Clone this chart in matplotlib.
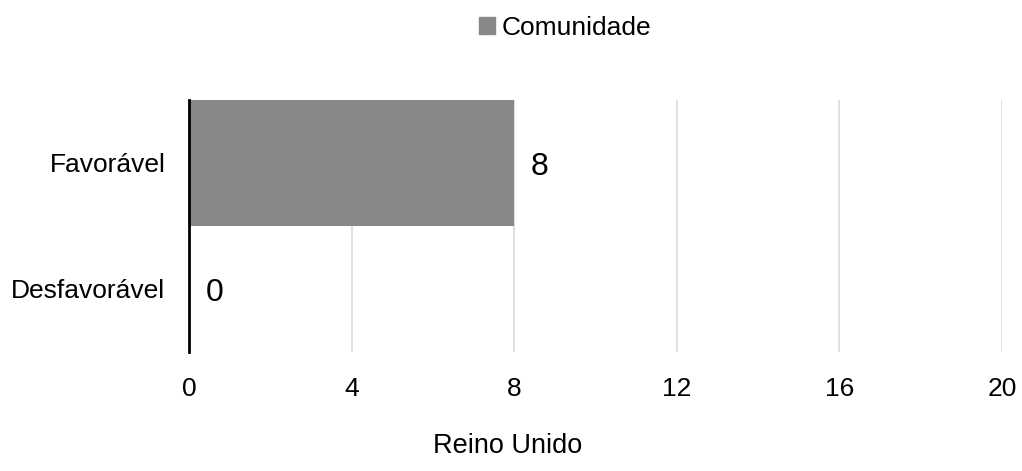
import matplotlib.pyplot as plt
from matplotlib.patches import Patch

plt.rcParams['font.family'] = ['Liberation Sans', 'DejaVu Sans']

# dados
categorias = ["Desfavorável", "Favorável"]
valores = [0, 8]
serie = "Comunidade"
ticks_x = [0, 4, 8, 12, 16, 20]
titulo_x = "Reino Unido"

cor_barra = "#878787"

fig = plt.figure(figsize=(10.22, 4.71), dpi=100)
ax = fig.add_axes([189 / 1022, 1 - 352 / 471, (1002 - 189) / 1022, 252 / 471])

barras = ax.barh(categorias, valores, height=1.0, color=cor_barra, zorder=3)

ax.set_xlim(0, 20)
ax.set_ylim(-0.5, 1.5)
ax.set_xticks(ticks_x)
ax.grid(axis="x", color="#d9d9d9", linewidth=1.2, zorder=0)
ax.tick_params(axis="both", length=0, labelsize=19)
ax.tick_params(axis="x", pad=18)
ax.tick_params(axis="y", pad=17)

for s in ["top", "right", "bottom"]:
    ax.spines[s].set_visible(False)
ax.spines["left"].set_color("black")
ax.spines["left"].set_linewidth(2)
ax.spines["left"].set_zorder(4)

# rótulos de dados
for b, v in zip(barras, valores):
    ax.annotate(str(v), (b.get_width(), b.get_y() + b.get_height() / 2),
                xytext=(12, -3), textcoords="offset points",
                va="center", ha="left", fontsize=23)

fig.text(508 / 1022, 1 - 446 / 471, titulo_x, ha="center", va="center", fontsize=19.5)

fig.legend(handles=[Patch(color=cor_barra, label=serie)],
           loc="center", bbox_to_anchor=(565 / 1022, 1 - 28 / 471),
           frameon=False, fontsize=19, handlelength=0.6, handleheight=0.6,
           handletextpad=0.25)

fig.savefig("out.png", dpi=100)
